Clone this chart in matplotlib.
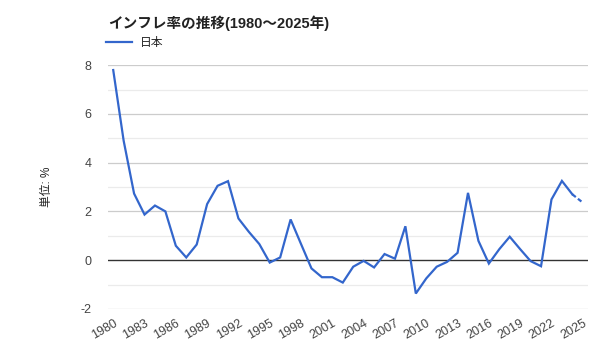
import matplotlib
matplotlib.use("Agg")
import matplotlib.pyplot as plt
import numpy as np

plt.rcParams['font.family'] = ['Liberation Sans', 'Noto Sans CJK JP', 'DejaVu Sans']
plt.rcParams['axes.unicode_minus'] = False

# Japan inflation rate, 1980-2025
years = list(range(1980, 2026))
values = [7.8, 4.9, 2.73, 1.87, 2.24, 2.0, 0.59, 0.11, 0.64, 2.30,
          3.05, 3.24, 1.71, 1.16, 0.66, -0.1, 0.11, 1.67, 0.66, -0.34,
          -0.7, -0.7, -0.92, -0.27, -0.03, -0.3, 0.25, 0.06, 1.39, -1.37,
          -0.75, -0.27, -0.07, 0.30, 2.76, 0.79, -0.14, 0.45, 0.96, 0.45,
          -0.04, -0.25, 2.49, 3.25, 2.7, 2.36]
tick_years = list(range(1980, 2026, 3))

blue = '#3366cc'
x = np.arange(len(years))

fig = plt.figure(figsize=(6, 3.6), dpi=100)
ax = fig.add_axes([0.18, 0.142, 0.8, 0.677])

# actual values, last year (estimate) dashed
ax.plot(x[:-1], values[:-1], color=blue, lw=1.6, solid_joinstyle='miter', label='日本', zorder=3)
ax.plot(x[-2:], values[-2:], color=blue, lw=1.6, ls=(0, (2, 1.2)), zorder=3)

ax.set_xlim(-0.5, len(years) - 0.5)
ax.set_ylim(-2, 8)

# gridlines
for v in range(-2, 9):
    if v == 0:
        ax.axhline(v, color='#333333', lw=1.0, zorder=2)
    elif v % 2 == 0:
        ax.axhline(v, color='#cccccc', lw=0.9, zorder=1)
    else:
        ax.axhline(v, color='#ebebeb', lw=0.9, zorder=1)

ax.set_yticks(range(-2, 9, 2))
ax.set_xticks([years.index(y) for y in tick_years])
ax.set_xticklabels([str(y) for y in tick_years], rotation=30, ha='right',
                   rotation_mode='anchor')
ax.tick_params(axis='both', length=0, colors='#444444', labelsize=9)
ax.tick_params(axis='y', pad=12)
ax.tick_params(axis='x', pad=6)
for s in ax.spines.values():
    s.set_visible(False)

ax.set_ylabel('単位: %', fontsize=8.5, color='#222222', labelpad=20)

fig.text(0.18, 0.935, 'インフレ率の推移(1980～2025年)', fontsize=10.5,
         fontweight='bold', color='#222222', va='center')
ax.legend(loc='lower left', bbox_to_anchor=(-0.013, 1.045), frameon=False,
          fontsize=8.5, handlelength=2.2, handletextpad=0.6, borderaxespad=0,
          labelcolor='#222222')

fig.savefig('out.png', dpi=100)
